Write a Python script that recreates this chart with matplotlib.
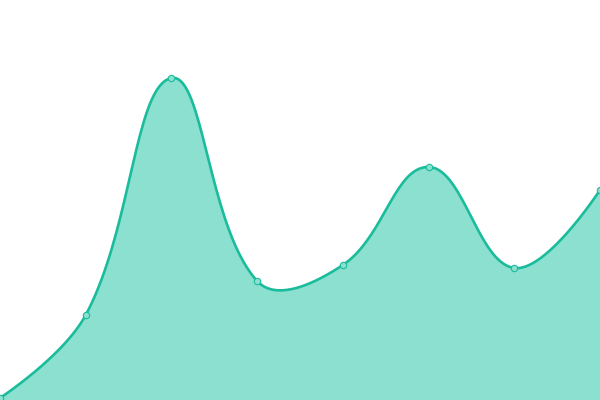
import numpy as np
import matplotlib
matplotlib.use('Agg')
import matplotlib.pyplot as plt

# data (height above the bottom edge, 0..400)
categories = ['A', 'B', 'C', 'D', 'E', 'F', 'G', 'H']
values = [2, 85, 322, 119, 135, 233, 132, 210]

LINE = '#1abc9c'
FILL = '#8be0cf'


def smooth_curve(xs, ys, sx=1.0, smooth=0.4, n=40):
    # bezier smoothing, control points from neighbour distances
    pts = np.column_stack([np.asarray(xs, float) * sx, np.asarray(ys, float)])
    cps_in, cps_out = [], []
    for i in range(len(pts)):
        p = pts[i]
        if i == 0 or i == len(pts) - 1:
            cps_in.append(p)
            cps_out.append(p)
            continue
        prev, nxt = pts[i - 1], pts[i + 1]
        v = nxt - prev
        d0 = np.hypot(*(p - prev))
        d1 = np.hypot(*(nxt - p))
        r = d0 / (d0 + d1)
        cps_in.append(p - v * smooth * r)
        cps_out.append(p + v * smooth * (1 - r))
    t = np.linspace(0, 1, n)[:, None]
    out = []
    for i in range(len(pts) - 1):
        a, b, c, d = pts[i], cps_out[i], cps_in[i + 1], pts[i + 1]
        seg = ((1 - t) ** 3) * a + 3 * ((1 - t) ** 2) * t * b + 3 * (1 - t) * t ** 2 * c + t ** 3 * d
        out.append(seg if i == 0 else seg[1:])
    out = np.vstack(out)
    return out[:, 0] / sx, out[:, 1]


x = np.arange(len(categories))
fig = plt.figure(figsize=(6, 4), dpi=100)
ax = fig.add_axes([0, 0, 1, 1])
ax.set_xlim(0, len(categories) - 1)
ax.set_ylim(0, 400)
ax.axis('off')

cx, cy = smooth_curve(x, values, sx=600 / (len(categories) - 1))
ax.fill_between(cx, cy, 0, color=FILL, linewidth=0)
ax.plot(cx, cy, color=LINE, linewidth=1.9, solid_capstyle='round')
ax.plot(x, values, linestyle='none', marker='o', markersize=4.6,
        markerfacecolor=FILL, markeredgecolor=LINE, markeredgewidth=0.8)

fig.savefig('out.png', dpi=100)
